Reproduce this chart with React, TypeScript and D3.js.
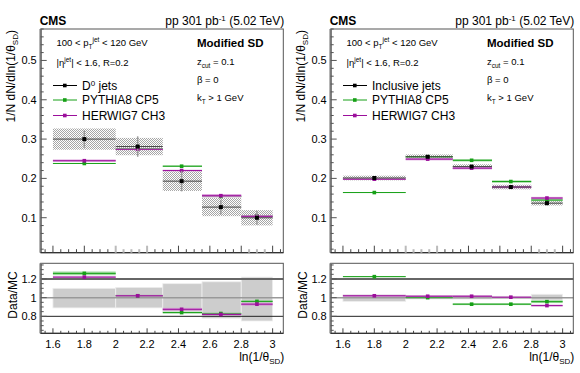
import React from 'react';
import * as d3 from 'd3';

// bins in ln(1/theta_SD)
const binEdges = [1.6, 2.0, 2.3, 2.55, 2.8, 3.0];
const binCenters = [1.8, 2.14, 2.42, 2.67, 2.9];

// D0 jets (left)
const d0Data = [0.300, 0.281, 0.193, 0.127, 0.0998];
const d0Stat = [0.022, 0.026, 0.026, 0.019, 0.018];
const d0Syst = [0.027, 0.022, 0.025, 0.023, 0.0195];
const d0Pythia = [0.238, 0.275, 0.231, 0.154, 0.104];
const d0PythiaErr = [0.001, 0.002, 0.002, 0.002, 0.002];
const d0Herwig = [0.245, 0.274, 0.220, 0.156, 0.1035];
const d0HerwigErr = [0.003, 0.002, 0.002, 0.004, 0.003];
const d0RatioPythia = [1.26, 1.02, 0.84, 0.83, 0.96];
const d0RatioPythiaErr = [0.02, 0.01, 0.01, 0.01, 0.01];
const d0RatioHerwig = [1.22, 1.02, 0.875, 0.82, 0.93];
const d0RatioHerwigErr = [0.01, 0.01, 0.015, 0.01, 0.015];
const d0UncLo = [0.89, 0.89, 0.85, 0.78, 0.75];
const d0UncHi = [1.10, 1.11, 1.15, 1.17, 1.22];

// inclusive jets (right)
const inclData = [0.201, 0.255, 0.230, 0.178, 0.137];
const inclStat = [0.004, 0.004, 0.005, 0.004, 0.005];
const inclSyst = [0.006, 0.006, 0.006, 0.006, 0.006];
const inclPythia = [0.164, 0.255, 0.246, 0.192, 0.145];
const inclPythiaErr = [0.001, 0.002, 0.003, 0.003, 0.003];
const inclHerwig = [0.198, 0.249, 0.226, 0.178, 0.150];
const inclHerwigErr = [0.002, 0.003, 0.003, 0.003, 0.003];
const inclRatioPythia = [1.225, 1.0, 0.93, 0.93, 0.957];
const inclRatioPythiaErr = [0.005, 0.005, 0.01, 0.01, 0.015];
const inclRatioHerwig = [1.02, 1.015, 1.015, 1.005, 0.915];
const inclRatioHerwigErr = [0.01, 0.01, 0.01, 0.005, 0.01];
const inclUncLo = [0.96, 0.985, 0.985, 0.99, 0.975];
const inclUncHi = [1.03, 1.02, 1.02, 1.015, 1.036];

const yTicksTop = [0.1, 0.2, 0.3, 0.4, 0.5];
const yTicksRatio = [0.8, 1, 1.2];
const xTickLabels = ['1.6', '1.8', '2', '2.2', '2.4', '2.6', '2.8', '3'];

const FONT = 'Liberation Sans, Arial, Helvetica, sans-serif';
const GREEN = '#16a016';
const GREEN_L = '#8fd48f';
const MAG = '#9b0f9b';
const MAG_L = '#d48ad4';

function Panel(props: any) {
  const {ox, label, data, stat, syst, py, pyErr, hw, hwErr, rPy, rPyErr, rHw, rHwErr, uncLo, uncHi} = props;
  const x = d3.scaleLinear().domain([1.522, 3.068]).range([ox + 40.7, ox + 283.3]);
  const y = d3.scaleLinear().domain([0.011, 0.58]).range([252.7, 29]);
  const yr = d3.scaleLinear().domain([0.618, 1.368]).range([333.3, 263.3]);
  const [L, R] = x.range();

  const minorX = d3.range(1.55, 3.051, 0.05).map(v => +v.toFixed(2));
  const minorY = d3.range(0.02, 0.581, 0.02).map(v => +v.toFixed(2));
  const minorYr = d3.range(0.65, 1.36, 0.05).map(v => +v.toFixed(2));
  const isMajor = (v: number) => Math.abs(v * 5 - Math.round(v * 5)) < 1e-6;
  const grayTick = (v: number) => (v >= 2.0 && v <= 2.2) || (v > 2.8 && v < 3.0);

  const mcLines = (vals: number[], errs: number[], sc: any, col: string, light: string, key: string) =>
    vals.map((v, i) => {
      const x0 = x(binEdges[i]), x1 = x(binEdges[i + 1]);
      return (
        <g key={key + i}>
          <rect x={x0} y={sc(v + errs[i])} width={x1 - x0} height={Math.max(0.8, sc(v - errs[i]) - sc(v + errs[i]))}
            fill={light} opacity={0.85} />
          <line x1={x0} x2={x1} y1={sc(v)} y2={sc(v)} stroke={col} strokeWidth={1} />
          <rect x={x(binCenters[i]) - 1.8} y={sc(v) - 1.8} width={3.6} height={3.6} fill={col} />
        </g>
      );
    });

  return (
    <g>
      {/* header */}
      <text x={L - 1} y={25} fontFamily={FONT} fontWeight="bold" fontSize={12}>CMS</text>
      <text x={R + 1} y={25} fontFamily={FONT} fontSize={12} textAnchor="end">
        pp 301 pb<tspan dy={-4} fontSize={8}>-1</tspan><tspan dy={4}> (5.02 TeV)</tspan>
      </text>

      {/* y label */}
      <text transform={`translate(${ox + 15},30) rotate(-90)`} fontFamily={FONT} fontSize={12} textAnchor="end">
        1/N dN/dln(1/θ<tspan dy={3} fontSize={8}>SD</tspan><tspan dy={-3}>)</tspan>
      </text>
      <text transform={`translate(${ox + 16.5},295) rotate(-90)`} fontFamily={FONT} fontSize={12} textAnchor="middle">
        Data/MC
      </text>

      {/* upper panel data syst boxes */}
      {data.map((v: number, i: number) => (
        <rect key={'sb' + i} x={x(binEdges[i])} y={y(v + syst[i])} width={x(binEdges[i + 1]) - x(binEdges[i])}
          height={y(v - syst[i]) - y(v + syst[i])} fill="url(#hatch)" />
      ))}
      {mcLines(py, pyErr, y, GREEN, GREEN_L, 'py')}
      {mcLines(hw, hwErr, y, MAG, MAG_L, 'hw')}
      {data.map((v: number, i: number) => (
        <g key={'d' + i}>
          <line x1={x(binCenters[i])} x2={x(binCenters[i])} y1={y(v + stat[i])} y2={y(v - stat[i])} stroke="#9a9a9a" strokeWidth={1.5} />
          <line x1={x(binEdges[i])} x2={x(binEdges[i + 1])} y1={y(v)} y2={y(v)} stroke="#444" strokeWidth={1} />
          <rect x={x(binCenters[i]) - 2} y={y(v) - 2} width={4} height={4} fill="#000" />
        </g>
      ))}

      {/* legend */}
      {[
        {t: label, c: '#000', yy: 85.5},
        {t: 'PYTHIA8 CP5', c: GREEN, yy: 100},
        {t: 'HERWIG7 CH3', c: MAG, yy: 115.5},
      ].map((e, i) => (
        <g key={'lg' + i}>
          <line x1={ox + 53} x2={ox + 77} y1={e.yy} y2={e.yy} stroke={e.c} strokeWidth={1} />
          <rect x={ox + 63} y={e.yy - 1.8} width={3.6} height={3.6} fill={e.c} />
          <text x={ox + 82} y={e.yy + 4.3} fontFamily={FONT} fontSize={12}>
            {e.t === 'D0 jets' ? <>D<tspan dy={-4} fontSize={8}>0</tspan><tspan dy={4}> jets</tspan></> : e.t}
          </text>
        </g>
      ))}

      {/* info texts */}
      <text x={ox + 56.5} y={46} fontFamily={FONT} fontSize={9.5}>
        100 &lt; p<tspan dy={3} fontSize={6.5}>T</tspan><tspan dy={-7} fontSize={6.5}>jet</tspan><tspan dy={4}> &lt; 120 GeV</tspan>
      </text>
      <text x={ox + 56.5} y={66} fontFamily={FONT} fontSize={9.5}>
        |η<tspan dy={-4} fontSize={6.5}>jet</tspan><tspan dy={4}>| &lt; 1.6, R=0.2</tspan>
      </text>
      <text x={ox + 197} y={46.5} fontFamily={FONT} fontSize={11.5} fontWeight="bold">Modified SD</text>
      <text x={ox + 197} y={65} fontFamily={FONT} fontSize={9.5}>
        z<tspan dy={2.5} fontSize={6.5}>cut</tspan><tspan dy={-2.5}> = 0.1</tspan>
      </text>
      <text x={ox + 197} y={83} fontFamily={FONT} fontSize={9.5}>β = 0</text>
      <text x={ox + 197} y={101} fontFamily={FONT} fontSize={9.5}>
        k<tspan dy={2.5} fontSize={6.5}>T</tspan><tspan dy={-2.5}> &gt; 1 GeV</tspan>
      </text>

      {/* upper frame and axes */}
      <rect x={L} y={29} width={R - L} height={252.7 - 29} fill="none" stroke="#555" strokeWidth={1} />
      <line x1={L} x2={L} y1={29} y2={252.7} stroke="#7a7a7a" strokeWidth={2.5} />
      <line x1={L} x2={R} y1={252.7} y2={252.7} stroke="#333" strokeWidth={1.3} />
      {minorY.map(v => {
        const maj = Math.abs(v * 10 - Math.round(v * 10)) < 1e-6;
        return <line key={'yt' + v} x1={L} x2={L + (maj ? 6 : 3)} y1={y(v)} y2={y(v)} stroke="#555" strokeWidth={1} />;
      })}
      {yTicksTop.map(v => (
        <text key={'yl' + v} x={L - 4} y={y(v) + 4} fontFamily={FONT} fontSize={11} textAnchor="end">{v}</text>
      ))}
      {minorX.map(v => (
        <line key={'xt' + v} x1={x(v)} x2={x(v)} y1={252.7} y2={252.7 - (isMajor(v) ? 7 : 3.5)}
          stroke={grayTick(v) ? '#bbb' : '#444'} strokeWidth={grayTick(v) ? 2 : 1} />
      ))}

      {/* ratio panel */}
      {uncLo.map((lo: number, i: number) => (
        <rect key={'ub' + i} x={x(binEdges[i])} y={yr(uncHi[i])} width={x(binEdges[i + 1]) - x(binEdges[i])}
          height={yr(lo) - yr(uncHi[i])} fill="#cdcdcd" stroke="#eee" strokeWidth={0.8} />
      ))}
      <line x1={L} x2={R} y1={yr(1.2)} y2={yr(1.2)} stroke="#666" strokeWidth={2} />
      <line x1={L} x2={R} y1={yr(1)} y2={yr(1)} stroke="#999" strokeWidth={1.5} />
      <line x1={L} x2={R} y1={yr(0.8)} y2={yr(0.8)} stroke="#222" strokeWidth={1} />
      {mcLines(rPy, rPyErr, yr, GREEN, GREEN_L, 'rpy')}
      {mcLines(rHw, rHwErr, yr, MAG, MAG_L, 'rhw')}
      <rect x={L} y={263.3} width={R - L} height={333.3 - 263.3} fill="none" stroke="#555" strokeWidth={1} />
      <line x1={L} x2={L} y1={263.3} y2={333.3} stroke="#7a7a7a" strokeWidth={2.5} />
      <line x1={L} x2={R} y1={333.3} y2={333.3} stroke="#333" strokeWidth={1.3} />
      {minorYr.map(v => {
        const maj = Math.abs(v * 5 - Math.round(v * 5)) < 1e-6;
        return <line key={'yrt' + v} x1={L} x2={L + (maj ? 6 : 3)} y1={yr(v)} y2={yr(v)} stroke="#555" strokeWidth={1} />;
      })}
      {yTicksRatio.map(v => (
        <text key={'yrl' + v} x={L - 4} y={yr(v) + 4} fontFamily={FONT} fontSize={11} textAnchor="end">{v}</text>
      ))}
      {minorX.map(v => (
        <line key={'xrt' + v} x1={x(v)} x2={x(v)} y1={333.3} y2={333.3 - (isMajor(v) ? 5 : 2.5)} stroke="#444" strokeWidth={1} />
      ))}
      {xTickLabels.map(t => (
        <text key={'xl' + t} x={x(+t)} y={347.5} fontFamily={FONT} fontSize={11} textAnchor="middle">{t}</text>
      ))}
      <text x={R + 1} y={361} fontFamily={FONT} fontSize={12} textAnchor="end">
        ln(1/θ<tspan dy={3} fontSize={8}>SD</tspan><tspan dy={-3}>)</tspan>
      </text>
    </g>
  );
}

export default function App() {
  return (
    <svg width={580} height={373} style={{position: 'absolute', left: 0, top: 0, background: '#fff'}}>
      <defs>
        <pattern id="hatch" width={2} height={2} patternUnits="userSpaceOnUse">
          <rect width={2} height={2} fill="#fff" />
          <rect x={0} y={0} width={1} height={1} fill="#a6a6a6" />
          <rect x={1} y={1} width={1} height={1} fill="#a6a6a6" />
        </pattern>
      </defs>
      <rect width={580} height={373} fill="#fff" />
      <Panel ox={0} label="D0 jets" data={d0Data} stat={d0Stat} syst={d0Syst}
        py={d0Pythia} pyErr={d0PythiaErr} hw={d0Herwig} hwErr={d0HerwigErr}
        rPy={d0RatioPythia} rPyErr={d0RatioPythiaErr} rHw={d0RatioHerwig} rHwErr={d0RatioHerwigErr}
        uncLo={d0UncLo} uncHi={d0UncHi} />
      <Panel ox={290} label="Inclusive jets" data={inclData} stat={inclStat} syst={inclSyst}
        py={inclPythia} pyErr={inclPythiaErr} hw={inclHerwig} hwErr={inclHerwigErr}
        rPy={inclRatioPythia} rPyErr={inclRatioPythiaErr} rHw={inclRatioHerwig} rHwErr={inclRatioHerwigErr}
        uncLo={inclUncLo} uncHi={inclUncHi} />
</svg>
  );
}
